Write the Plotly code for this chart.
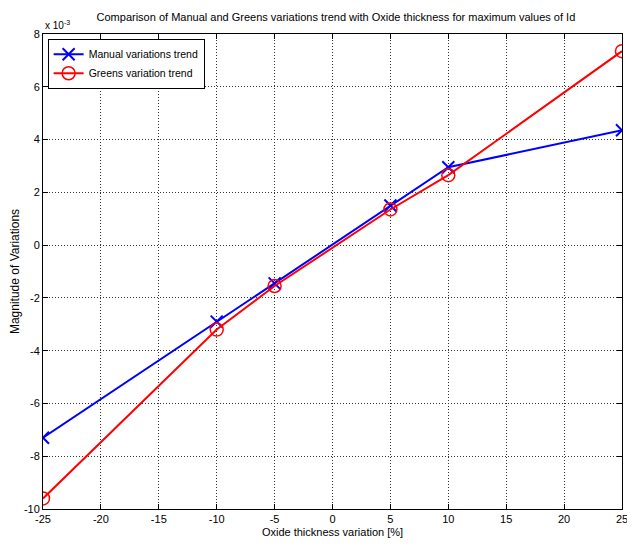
import plotly.graph_objects as go

x_vals = [-25, -10, -5, 5, 10, 25]
manual = [-7.3, -2.9, -1.45, 1.5, 2.95, 4.35]
greens = [-9.6, -3.2, -1.55, 1.35, 2.65, 7.35]
x_ticks = [-25, -20, -15, -10, -5, 0, 5, 10, 15, 20, 25]
y_ticks = [-10, -8, -6, -4, -2, 0, 2, 4, 6, 8]

narrow = "Liberation Sans Narrow, Arial Narrow, Liberation Sans, Arial"

fig = go.Figure()
fig.add_trace(go.Scatter(x=x_vals, y=manual, mode="lines+markers", name="Manual variations trend",
                         line=dict(color="#0000ff", width=2),
                         marker=dict(symbol="x-thin", size=12, line=dict(color="#0000ff", width=2), color="#0000ff")))
fig.add_trace(go.Scatter(x=x_vals, y=greens, mode="lines+markers", name="Greens variation trend",
                         line=dict(color="#ff0000", width=2),
                         marker=dict(symbol="circle-open", size=13, line=dict(color="#ff0000", width=1.5), color="#ff0000")))

axis_common = dict(showline=True, linecolor="black", linewidth=1, mirror="ticks", ticks="inside",
                   ticklen=5, tickcolor="black", showgrid=True, gridcolor="#333333", griddash="1px,2px",
                   gridwidth=1, zeroline=False, automargin=False,
                   tickfont=dict(family=narrow, size=11, color="black"))

fig.update_xaxes(range=[-25, 25], tickvals=x_ticks, ticktext=[str(v) for v in x_ticks],
                 title=dict(text="Oxide thickness variation [%]", font=dict(family=narrow, size=11, color="black"), standoff=4),
                 **axis_common)
fig.update_yaxes(range=[-10, 8], tickvals=y_ticks, ticktext=[str(v) for v in y_ticks],
                 title=dict(text="Magnitude of Variations", font=dict(family="Liberation Sans, Arial", size=12, color="black"), standoff=12),
                 **axis_common)

fig.update_layout(
    width=627, height=539,
    margin=dict(l=35, r=13, t=26, b=38),
    paper_bgcolor="white", plot_bgcolor="white",
    title=dict(text="Comparison of Manual and Greens variations trend with Oxide thickness for maximum values of Id",
               font=dict(family=narrow, size=11, color="black"), x=0.523, xanchor="center", y=0.983, yanchor="middle"),
    legend=dict(x=0.008, y=0.99, xanchor="left", yanchor="top", bgcolor="white", bordercolor="black", borderwidth=1,
                font=dict(family=narrow, size=10.5, color="black"), itemwidth=30, tracegroupgap=0),
    showlegend=True,
)
fig.add_annotation(text="x 10<sup>-3</sup>", xref="paper", yref="paper", x=0.0, y=1.0, xanchor="left", yanchor="bottom",
                   showarrow=False, font=dict(family=narrow, size=10, color="black"), yshift=1)

fig.write_html("out.html")
